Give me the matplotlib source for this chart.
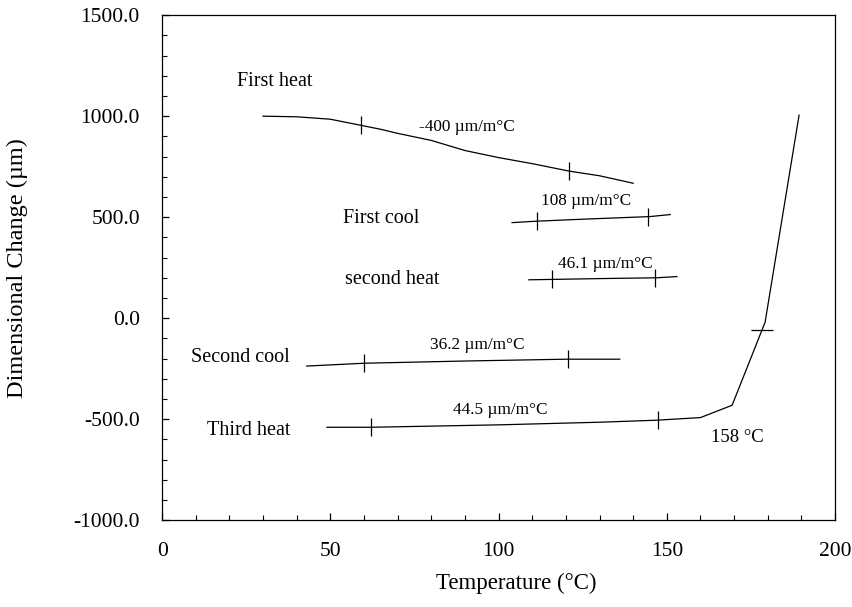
import numpy as np
import matplotlib
matplotlib.use("Agg")
import matplotlib.pyplot as plt
from matplotlib.ticker import MultipleLocator, FormatStrFormatter

plt.rcParams['font.family'] = ['Liberation Serif', 'DejaVu Serif']

# dilatometer runs: temperature (C) vs dimensional change (um)
first_heat_t = [30, 40, 50, 59, 65, 70, 80, 90, 100, 110, 121, 130, 140]
first_heat_d = [1000, 997, 985, 955, 935, 915, 880, 830, 795, 765, 728, 705, 668]

first_cool_t = [104, 111, 125, 145, 151]
first_cool_d = [473, 480, 490, 503, 513]

second_heat_t = [109, 116, 130, 147, 153]
second_heat_d = [190, 192, 196, 200, 206]

second_cool_t = [43, 60, 90, 120, 136]
second_cool_d = [-237, -223, -212, -203, -203]

third_heat_t = [49, 62, 100, 130, 147, 160, 169.4, 179.2, 189.3]
third_heat_d = [-540, -540, -528, -515, -505, -492, -431, -20, 1005]

# tangent points where the slopes were taken
tangent_x = {
    "first_heat": [59, 121],
    "first_cool": [111.5, 144.5],
    "second_heat": [116, 146.5],
    "second_cool": [60, 120.5],
    "third_heat": [62, 147.5],
}
onset_t = 178.3

fig = plt.figure(figsize=(8.53, 6.07), dpi=100)
ax = fig.add_axes([0.190, 0.143, 0.789, 0.832])

runs = [
    ("first_heat", first_heat_t, first_heat_d),
    ("first_cool", first_cool_t, first_cool_d),
    ("second_heat", second_heat_t, second_heat_d),
    ("second_cool", second_cool_t, second_cool_d),
    ("third_heat", third_heat_t, third_heat_d),
]
for key, t, d in runs:
    ax.plot(t, d, color='black', lw=0.9)
    tx = tangent_x[key]
    ty = np.interp(tx, t, d)
    ax.plot(tx, ty, ls='none', marker='|', ms=13, mew=0.9, color='black')

onset_d = np.interp(onset_t, third_heat_t, third_heat_d)
ax.plot([onset_t], [onset_d], ls='none', marker='_', ms=16, mew=0.9, color='black')

# labels for each run and its slope
fs = 14.5
fs_slope = 12.4
ax.text(22.3, 1170, "First heat", fontsize=fs, va='center')
ax.text(76.5, 945, "-400 \u00b5m/m\u00b0C", fontsize=fs_slope, va='center')
ax.text(53.8, 495, "First cool", fontsize=fs, va='center')
ax.text(112.6, 579, "108 \u00b5m/m\u00b0C", fontsize=fs_slope, va='center')
ax.text(54.4, 193, "second heat", fontsize=fs, va='center')
ax.text(117.7, 267, "46.1 \u00b5m/m\u00b0C", fontsize=fs_slope, va='center')
ax.text(8.6, -193, "Second cool", fontsize=fs, va='center')
ax.text(79.6, -134, "36.2 \u00b5m/m\u00b0C", fontsize=fs_slope, va='center')
ax.text(13.4, -554, "Third heat", fontsize=fs, va='center')
ax.text(86.5, -455, "44.5 \u00b5m/m\u00b0C", fontsize=fs_slope, va='center')
ax.text(163.2, -589, "158 \u00b0C", fontsize=13.5, va='center')

ax.set_xlim(0, 200)
ax.set_ylim(-1000, 1500)
ax.xaxis.set_major_locator(MultipleLocator(50))
ax.xaxis.set_minor_locator(MultipleLocator(10))
ax.yaxis.set_major_locator(MultipleLocator(500))
ax.yaxis.set_minor_locator(MultipleLocator(100))
ax.yaxis.set_major_formatter(FormatStrFormatter('%.1f'))

ax.tick_params(which='both', direction='in', top=False, right=False, labelsize=15.5)
ax.tick_params(which='major', length=5, width=0.9)
ax.tick_params(which='minor', length=3.5, width=0.8)
ax.tick_params(axis='x', which='major', pad=16)
ax.tick_params(axis='y', which='major', pad=16)
for s in ax.spines.values():
    s.set_linewidth(0.9)

ax.set_xlabel("Temperature (\u00b0C)", fontsize=16.5, labelpad=6)
ax.xaxis.set_label_coords(0.527, -0.105)
ax.set_ylabel("Dimensional Change (\u00b5m)", fontsize=17.5, labelpad=33)

fig.savefig("out.png", dpi=100)
